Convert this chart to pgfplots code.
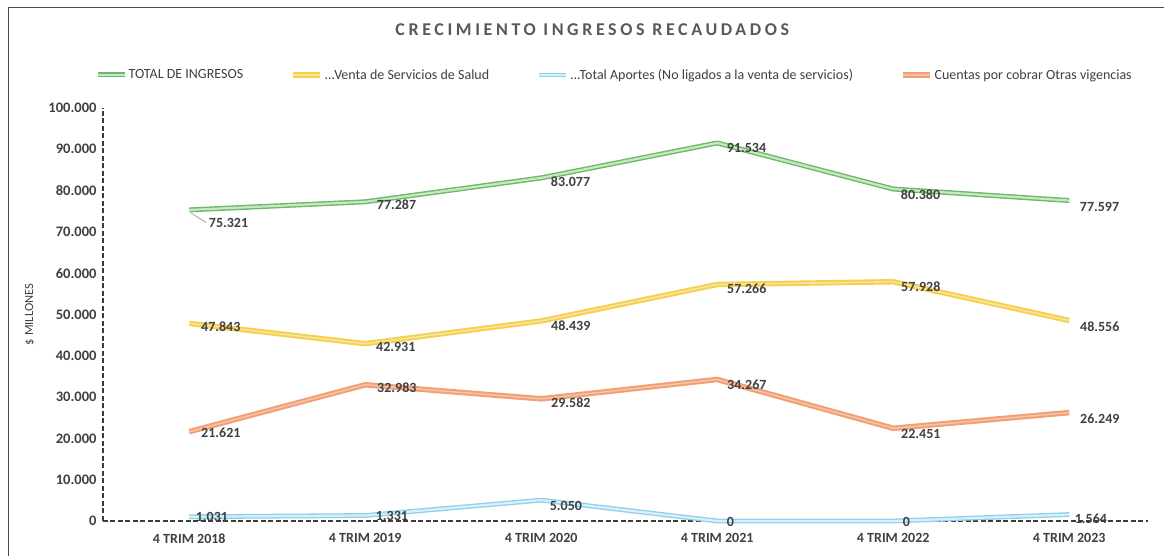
\documentclass[border=0pt]{standalone}
\usepackage{fontspec}
\setmainfont{Carlito}
\usepackage{pgfplots}
\usepackage{pgfplotstable}
\pgfplotsset{compat=1.18}
\definecolor{txt}{HTML}{404040}
\definecolor{titlec}{HTML}{595959}
\definecolor{axc}{HTML}{3A3A3A}
\definecolor{gOut}{HTML}{6DB86A}
\definecolor{gIn}{HTML}{C8E8C2}
\definecolor{yOut}{HTML}{F4D04E}
\definecolor{yIn}{HTML}{FAE39A}
\definecolor{bOut}{HTML}{8ECFEC}
\definecolor{bIn}{HTML}{D8F0FA}
\definecolor{oOut}{HTML}{F0A077}
\definecolor{oIn}{HTML}{F7C3A5}

\pgfplotstableread{
x y dx dy
0 75321 19 -13
1 77287 11 -3
2 83077 9 -4
3 91534 9 -5
4 80380 7 -6
5 77597 10 -6
}\greentab
\pgfplotstableread{
x y dx dy
0 47843 11 -3
1 42931 10 -3
2 48439 9 -5
3 57266 9 -4
4 57928 7 -5
5 48556 10 -6
}\yellowtab
\pgfplotstableread{
x y dx dy
0 1031 6 0
1 1331 10 0
2 5050 8 -6
3 0 9 -1
4 0 9 -1
5 1564 5 -4
}\bluetab
\pgfplotstableread{
x y dx dy
0 21621 11 -1
1 32983 11 -3
2 29582 9 -4
3 34267 9 -5
4 22451 7 -6
5 26249 10 -6
}\orangetab

\begin{document}
\begin{tikzpicture}[x=1pt,y=1pt]
\useasboundingbox (-103,-35) rectangle (1061,521);
\fill[white] (-103,-35) rectangle (1061,521);
\draw[black!70, line width=1pt] (-94,-35) -- (-94,513) -- (1061,513);
\begin{axis}[
  scale only axis,
  width=1045.4pt, height=413pt,
  xmin=-0.49, xmax=5.45,
  ymin=0, ymax=100000,
  clip=false,
  axis x line=bottom, axis y line=left,
  axis line style={-, draw=axc, line width=1.1pt, dash pattern=on 5pt off 2.5pt},
  major tick length=0pt,
  xtick={0,1,2,3,4,5},
  xticklabels={4 TRIM 2018,4 TRIM 2019,4 TRIM 2020,4 TRIM 2021,4 TRIM 2022,4 TRIM 2023},
  ytick={0,10000,20000,30000,40000,50000,60000,70000,80000,90000,100000},
  scaled y ticks=false,
  /pgf/number format/fixed,
  /pgf/number format/1000 sep={.},
  /pgf/number format/assume math mode=true,
  tick label style={font=\bfseries\fontsize{14}{14}\selectfont, text=txt},
  xticklabel style={yshift=-9pt},
  yticklabel style={xshift=-3pt, font=\bfseries\fontsize{14.5}{14.5}\selectfont},
  ylabel={\$ MILLONES},
  ylabel style={at={(axis description cs:-0.07,0.5)}, anchor=center, rotate=0, font=\fontsize{12.5}{12.5}\selectfont, text=txt},
  title={\addfontfeatures{LetterSpace=20}CRECIMIENTO INGRESOS RECAUDADOS},
  title style={at={(axis description cs:0.468,1.174)}, anchor=center, font=\bfseries\fontsize{18}{18}\selectfont, text=titlec},
  legend columns=4,
  legend image code/.code={\draw[#1] (0pt,0pt) -- (27pt,0pt);},
  legend style={draw=none, fill=none, inner sep=0pt, at={(axis description cs:-0.0077,1.08)}, anchor=west,
    font=\fontsize{14}{14}\selectfont, text=txt,
    nodes={inner sep=1.5pt},
    /tikz/every even column/.append style={column sep=46pt}},
  nodes near coords={\pgfmathprintnumber{\pgfplotspointmeta}},
  visualization depends on={\thisrow{dx}\as\dx},
  visualization depends on={\thisrow{dy}\as\dy},
  every node near coord/.append style={font=\bfseries\fontsize{14}{14}\selectfont, text=txt, anchor=west, inner sep=0pt, xshift=\dx pt, yshift=\dy pt},
]
\addplot[draw=gOut, line width=1.4pt, double=gIn, double distance=2.2pt, line join=round] table[x=x, y=y, meta=y] {\greentab};
\addlegendentry{TOTAL DE INGRESOS}
\addplot[draw=yOut, line width=1.9pt, double=yIn, double distance=1.6pt, line join=round] table[x=x, y=y, meta=y] {\yellowtab};
\addlegendentry{...Venta de Servicios de Salud}
\addplot[draw=bOut, line width=1.3pt, double=bIn, double distance=2.2pt, line join=round] table[x=x, y=y, meta=y] {\bluetab};
\addlegendentry{...Total Aportes (No ligados a la venta de servicios)}
\addplot[draw=oOut, line width=2pt, double=oIn, double distance=1.5pt, line join=round] table[x=x, y=y, meta=y] {\orangetab};
\addlegendentry{Cuentas por cobrar Otras vigencias}
\draw[black!50, line width=0.5pt] (axis cs:0.012,74500) -- (axis cs:0.095,72300);
\end{axis}
\end{tikzpicture}
\end{document}
